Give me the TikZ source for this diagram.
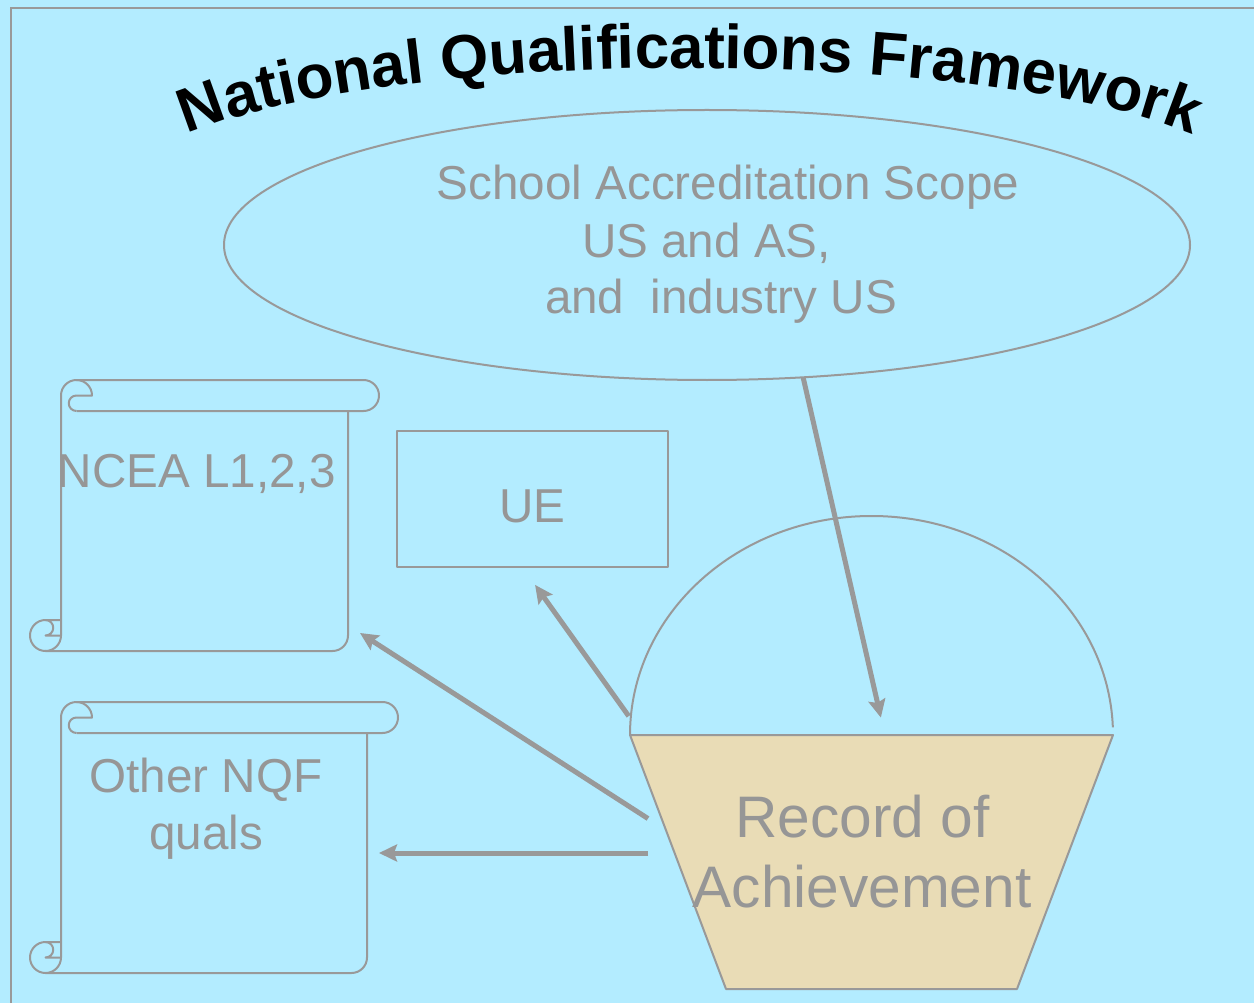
\documentclass[tikz,border=0pt]{standalone}
\usepackage{fontspec}
\setmainfont{Liberation Sans}
\usetikzlibrary{shapes.geometric,arrows.meta,decorations.text}

\newlength{\du}
\setlength{\du}{10pt}

\definecolor{framebg}{rgb}{0.701961, 0.925490, 1.000000}
\definecolor{dialinecolor}{rgb}{0.600000, 0.600000, 0.600000}
\definecolor{diatextcolor}{rgb}{0.588235, 0.588235, 0.588235}
\definecolor{recordfill}{rgb}{0.913725, 0.862745, 0.713725}

\tikzset{
  outline/.style={draw=dialinecolor, line width=2pt, line join=round},
  areabox/.style={inner sep=0pt, outer sep=0pt},
  bodytext/.style={text=diatextcolor, inner sep=0pt, font=\fontsize{47.6}{57}\selectfont},
  recordtext/.style={text=diatextcolor, inner sep=0pt, font=\fontsize{58.6}{72}\selectfont},
  flowarrow/.style={draw=dialinecolor, line width=5pt, -{Stealth[length=18pt,width=17pt,inset=3pt]}}
}

% scroll outline: left, top, right, bottom
\newcommand{\qualscroll}[4]{%
  \draw[outline] (#1+1.55,#4) arc[start angle=90, end angle=0, radius=1.55\du]
    -- (#1+3.1,#2+1.55) arc[start angle=180, end angle=270, radius=1.55\du]
    -- (#3-1.55,#2) arc[start angle=270, end angle=450, radius=1.55\du]
    -- (#1+4.65,#2+3.1);
  \draw[outline] (#1+4.65,#2) arc[start angle=270, end angle=360, radius=1.55\du]
    -- (#1+4.65,#2+1.55) arc[start angle=270, end angle=90, radius=0.775\du];
  \draw[outline] (#3-3.1,#2+3.1) -- (#3-3.1,#4-1.55)
    arc[start angle=0, end angle=90, radius=1.55\du] -- (#1+1.55,#4)
    arc[start angle=90, end angle=270, radius=1.55\du] -- (#1+3.1,#4-3.1);
  \draw[outline] (#1+1.55,#4-3.1) arc[start angle=270, end angle=450, radius=0.775\du]
    -- (#1+3.1,#4-1.55);
}

\begin{document}
\begin{tikzpicture}[x=\du,y=\du]
\pgftransformxscale{1.000000}
\pgftransformyscale{-1.000000}
\useasboundingbox (0.000000\du,0.000000\du) rectangle (125.400000\du,100.300000\du);
\fill[framebg] (0.000000\du,0.000000\du) rectangle (125.400000\du,100.300000\du);
\draw[dialinecolor, line width=2.5pt] (1.120000\du,101.000000\du)--(1.120000\du,0.800000\du)--(126.000000\du,0.800000\du);

% arched title
\path[decorate, decoration={text along path, text align=center,
    text={|\fontsize{62}{62}\selectfont\bfseries|National Qualifications Framework}}]
  (14.910000\du,15.600000\du) arc[start angle=195, end angle=345, x radius=56.000000\du, y radius=11.870000\du];

% accreditation scope
\node[outline, areabox, ellipse, minimum width=96.600000\du, minimum height=27.000000\du] (scope) at (70.700000\du,24.500000\du) {};
\node[bodytext, anchor=base] (scope-l1) at (72.800000\du,20.000000\du) {School Accreditation Scope};
\node[bodytext, anchor=base] (scope-l2) at (70.650000\du,25.730000\du) {US and AS,};
\node[bodytext, anchor=base] (scope-l3) at (72.100000\du,31.400000\du) {and\ \ industry US};

% scrolls
\qualscroll{3.0}{38.0}{37.9}{65.1}
\qualscroll{3.0}{70.2}{39.8}{97.3}
\coordinate (ncea-in) at (36.000000\du,63.300000\du);
\coordinate (otherquals-in) at (37.900000\du,85.300000\du);
\node[bodytext, anchor=base] (ncea-label) at (19.670000\du,48.700000\du) {NCEA L1,2,3};
\node[bodytext, anchor=base] (otherquals-l1) at (20.600000\du,79.200000\du) {Other NQF};
\node[bodytext, anchor=base] (otherquals-l2) at (20.600000\du,84.900000\du) {quals};

% UE
\node[outline, bodytext, minimum width=27.100000\du, minimum height=13.600000\du, text height=46.6pt, text depth=0pt] (ue) at (53.250000\du,49.870000\du) {UE};

% record of achievement
\draw[outline] (63.000000\du,73.500000\du) arc[start angle=180, end angle=358, x radius=24.150000\du, y radius=21.900000\du];
\filldraw[outline, fill=recordfill] (63.000000\du,73.500000\du)--(111.300000\du,73.500000\du)--(101.700000\du,98.900000\du)--(72.600000\du,98.900000\du)--cycle;
\node[areabox, minimum width=44.700000\du, minimum height=25.400000\du] (record) at (87.150000\du,86.200000\du) {};
\node[recordtext, anchor=base] (record-l1) at (86.250000\du,83.700000\du) {Record of};
\node[recordtext, anchor=base] (record-l2) at (86.200000\du,90.700000\du) {Achievement};

% arrows
\draw[flowarrow, shorten >=17.85pt] (scope.-54) -- (record.84.1);
\draw[flowarrow, shorten <=33.2pt, shorten >=21.1pt] (record.152.81) -- (ue.-98.7);
\draw[flowarrow] (record.169.36) -- (ncea-in);
\draw[flowarrow] (otherquals-in -| record.west) -- (otherquals-in);
\end{tikzpicture}
\end{document}
